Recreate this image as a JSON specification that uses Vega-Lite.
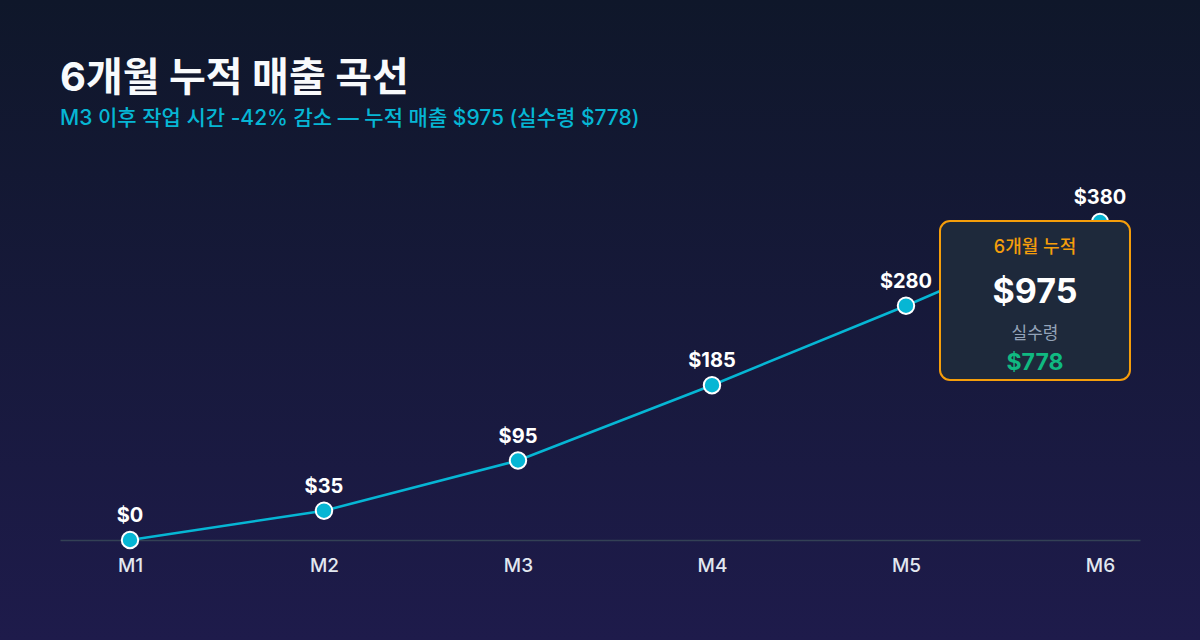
{
  "$schema": "https://vega.github.io/schema/vega-lite/v6.json",
  "width": 1200,
  "height": 640,
  "autosize": {"type": "none"},
  "padding": 0,
  "background": "#141a36",
  "title": {
    "text": "6개월 누적 매출 곡선",
    "subtitle": "M3 이후 작업 시간 -42% 감소 — 누적 매출 $975 (실수령 $778)",
    "anchor": "start",
    "frame": "group",
    "dx": 60,
    "offset": -129,
    "font": "Inter, Noto Sans CJK KR",
    "fontSize": 40,
    "fontWeight": 700,
    "color": "#f8fafc",
    "subtitleFont": "Inter, Noto Sans CJK KR",
    "subtitleFontSize": 21,
    "subtitleFontWeight": 500,
    "subtitleColor": "#06b6d4",
    "subtitlePadding": 9
  },
  "datasets": {
    "revenue": [
      {"month": "M1", "n": 1, "cumulative": 0},
      {"month": "M2", "n": 2, "cumulative": 35},
      {"month": "M3", "n": 3, "cumulative": 95},
      {"month": "M4", "n": 4, "cumulative": 185},
      {"month": "M5", "n": 5, "cumulative": 280},
      {"month": "M6", "n": 6, "cumulative": 380}
    ],
    "summary": [
      {"heading": "6개월 누적", "total": 975, "netLabel": "실수령", "net": 778}
    ]
  },
  "layer": [
    {
      "data": {"name": "revenue"},
      "mark": {"type": "line", "color": "#06b6d4", "strokeWidth": 2.6},
      "encoding": {
        "x": {
          "field": "n",
          "type": "quantitative",
          "scale": {"domain": [0.6392, 6.2062], "range": [60, 1140], "nice": false, "zero": false},
          "axis": {
            "orient": "bottom",
            "offset": -100,
            "values": [1, 2, 3, 4, 5, 6],
            "labelExpr": "'M' + datum.value",
            "title": null,
            "grid": false,
            "ticks": false,
            "domainColor": "#334155",
            "domainWidth": 1.5,
            "labelColor": "#e2e8f0",
            "labelFont": "Inter, Noto Sans CJK KR",
            "labelFontSize": 19,
            "labelFontWeight": 500,
            "labelPadding": 16
          }
        },
        "y": {
          "field": "cumulative",
          "type": "quantitative",
          "scale": {"domain": [0, 380], "range": [540, 222], "nice": false, "zero": true},
          "axis": null
        }
      }
    },
    {
      "data": {"name": "revenue"},
      "mark": {"type": "point", "filled": true, "fill": "#06b6d4", "stroke": "#ffffff", "strokeWidth": 2, "size": 270, "opacity": 1},
      "encoding": {
        "x": {"field": "n", "type": "quantitative"},
        "y": {"field": "cumulative", "type": "quantitative"}
      }
    },
    {
      "data": {"name": "revenue"},
      "mark": {"type": "text", "color": "#ffffff", "font": "Inter, Noto Sans CJK KR", "fontSize": 20, "fontWeight": 700, "baseline": "alphabetic", "dy": -18},
      "encoding": {
        "x": {"field": "n", "type": "quantitative"},
        "y": {"field": "cumulative", "type": "quantitative"},
        "text": {"field": "cumulative", "type": "quantitative", "format": "$,.0f"}
      }
    },
    {
      "data": {"name": "summary"},
      "mark": {"type": "rect", "fill": "#1e293b", "stroke": "#f59e0b", "strokeWidth": 2, "cornerRadius": 10},
      "encoding": {
        "x": {"datum": 5.1753, "type": "quantitative"},
        "x2": {"datum": 6.1546},
        "y": {"datum": 381.2, "type": "quantitative"},
        "y2": {"datum": 191.2}
      }
    },
    {
      "data": {"name": "summary"},
      "mark": {"type": "text", "color": "#f59e0b", "font": "Inter, Noto Sans CJK KR", "fontSize": 18, "fontWeight": 500, "align": "center", "baseline": "alphabetic"},
      "encoding": {
        "x": {"datum": 5.665, "type": "quantitative"},
        "y": {"datum": 343.0, "type": "quantitative"},
        "text": {"field": "heading"}
      }
    },
    {
      "data": {"name": "summary"},
      "mark": {"type": "text", "color": "#ffffff", "font": "Inter, Noto Sans CJK KR", "fontSize": 34, "fontWeight": 700, "align": "center", "baseline": "alphabetic"},
      "encoding": {
        "x": {"datum": 5.665, "type": "quantitative"},
        "y": {"datum": 283.2, "type": "quantitative"},
        "text": {"field": "total", "type": "quantitative", "format": "$,.0f"}
      }
    },
    {
      "data": {"name": "summary"},
      "mark": {"type": "text", "color": "#94a3b8", "font": "Inter, Noto Sans CJK KR", "fontSize": 17, "fontWeight": 400, "align": "center", "baseline": "alphabetic"},
      "encoding": {
        "x": {"datum": 5.665, "type": "quantitative"},
        "y": {"datum": 240.2, "type": "quantitative"},
        "text": {"field": "netLabel"}
      }
    },
    {
      "data": {"name": "summary"},
      "mark": {"type": "text", "color": "#10b981", "font": "Inter, Noto Sans CJK KR", "fontSize": 23, "fontWeight": 700, "align": "center", "baseline": "alphabetic"},
      "encoding": {
        "x": {"datum": 5.665, "type": "quantitative"},
        "y": {"datum": 203.1, "type": "quantitative"},
        "text": {"field": "net", "type": "quantitative", "format": "$,.0f"}
      }
    }
  ],
  "config": {
    "view": {
      "stroke": null,
      "fill": {
        "gradient": "linear",
        "x1": 0, "y1": 0, "x2": 0, "y2": 1,
        "stops": [
          {"offset": 0, "color": "#0f172a"},
          {"offset": 1, "color": "#1e1b4b"}
        ]
      }
    }
  }
}
